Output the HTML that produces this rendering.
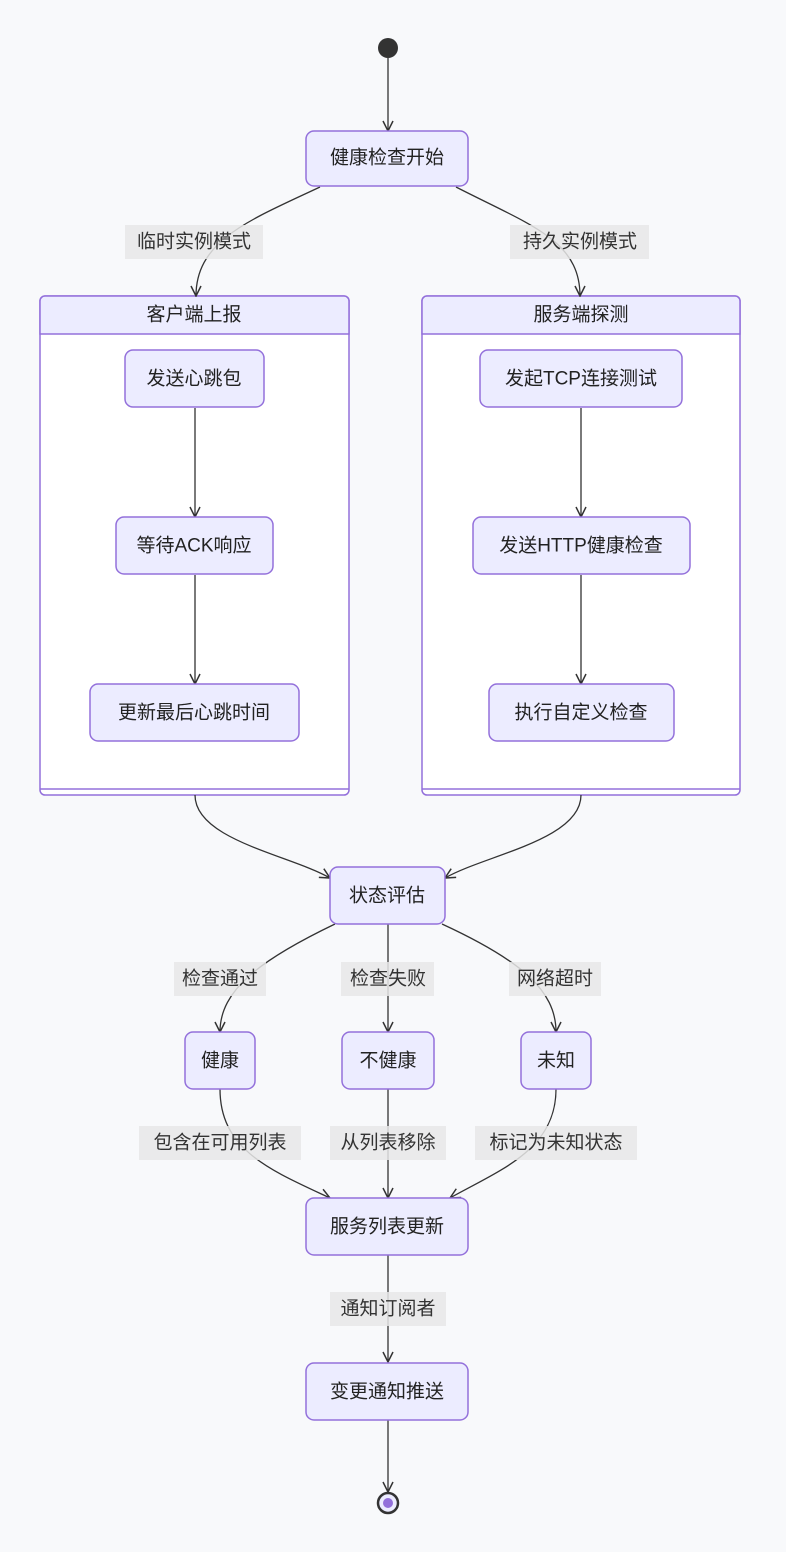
<!DOCTYPE html>
<html><head><meta charset="utf-8"><style>
html,body{margin:0;padding:0;background:#f8f9fb;}
svg{display:block;font-family:"Liberation Sans","Noto Sans CJK SC",sans-serif;}
.n{fill:#ECECFF;stroke:#9370DB;stroke-width:1.5;}
.e{fill:none;stroke:#333;stroke-width:1.3;}
.t{font-size:19px;fill:#222;text-anchor:middle;dominant-baseline:central;}
.lb{fill:#e8e8e8;opacity:0.85;}
.lt{font-size:19px;fill:#333;text-anchor:middle;dominant-baseline:central;}
</style></head><body>
<svg width="786" height="1552" viewBox="0 0 786 1552" xmlns="http://www.w3.org/2000/svg">
<defs>
<marker id="a" viewBox="0 0 12 12" refX="11" refY="6" markerWidth="12" markerHeight="12" markerUnits="userSpaceOnUse" orient="auto">
<path d="M1,1 L11,6 L1,11" fill="none" stroke="#333" stroke-width="1.5"/>
</marker>
</defs>
<rect width="786" height="1552" fill="#f8f9fb"/>
<!-- composites -->
<rect x="40" y="296" width="309" height="499" rx="5" fill="#fff" stroke="#9370DB" stroke-width="1.5"/>
<path d="M40,334 V301 a5,5 0 0 1 5,-5 H344 a5,5 0 0 1 5,5 V334 Z" fill="#ECECFF" stroke="#9370DB" stroke-width="1.5"/>
<line x1="40" y1="789" x2="349" y2="789" stroke="#9370DB" stroke-width="1.5"/>
<text class="t" x="194" y="315">客户端上报</text>
<rect x="422" y="296" width="318" height="499" rx="5" fill="#fff" stroke="#9370DB" stroke-width="1.5"/>
<path d="M422,334 V301 a5,5 0 0 1 5,-5 H735 a5,5 0 0 1 5,5 V334 Z" fill="#ECECFF" stroke="#9370DB" stroke-width="1.5"/>
<line x1="422" y1="789" x2="740" y2="789" stroke="#9370DB" stroke-width="1.5"/>
<text class="t" x="581" y="315">服务端探测</text>
<!-- edges -->
<path class="e" d="M388,58 V131" marker-end="url(#a)"/>
<path class="e" d="M320,187 C250,220 196,240 196,296" marker-end="url(#a)"/>
<path class="e" d="M456,187 C530,225 580,240 580,296" marker-end="url(#a)"/>
<path class="e" d="M195,408 V517" marker-end="url(#a)"/>
<path class="e" d="M195,575 V684" marker-end="url(#a)"/>
<path class="e" d="M581,408 V517" marker-end="url(#a)"/>
<path class="e" d="M581,575 V684" marker-end="url(#a)"/>
<path class="e" d="M195,795 C195,840 290,855 330,878" marker-end="url(#a)"/>
<path class="e" d="M581,795 C581,840 485,855 445,878" marker-end="url(#a)"/>
<path class="e" d="M335,924 C260,960 220,990 220,1032" marker-end="url(#a)"/>
<path class="e" d="M388,924 V1032" marker-end="url(#a)"/>
<path class="e" d="M442,924 C520,960 556,990 556,1032" marker-end="url(#a)"/>
<path class="e" d="M220,1089 C220,1150 270,1170 330,1198" marker-end="url(#a)"/>
<path class="e" d="M388,1089 V1198" marker-end="url(#a)"/>
<path class="e" d="M556,1089 C556,1150 500,1170 450,1198" marker-end="url(#a)"/>
<path class="e" d="M388,1255 V1362" marker-end="url(#a)"/>
<path class="e" d="M388,1420 V1492" marker-end="url(#a)"/>
<!-- start/end -->
<circle cx="388" cy="48" r="10" fill="#333"/>
<circle cx="388" cy="1503" r="10" fill="#ECECFF" stroke="#333" stroke-width="2.5"/>
<circle cx="388" cy="1503" r="5" fill="#9370DB"/>
<!-- nodes -->
<rect class="n" x="306" y="131" width="162" height="55" rx="8"/><text class="t" x="387" y="158">健康检查开始</text>
<rect class="n" x="125" y="350" width="139" height="57" rx="8"/><text class="t" x="194" y="379">发送心跳包</text>
<rect class="n" x="116" y="517" width="157" height="57" rx="8"/><text class="t" x="194" y="546">等待ACK响应</text>
<rect class="n" x="90" y="684" width="209" height="57" rx="8"/><text class="t" x="194" y="713">更新最后心跳时间</text>
<rect class="n" x="480" y="350" width="202" height="57" rx="8"/><text class="t" x="581" y="379">发起TCP连接测试</text>
<rect class="n" x="473" y="517" width="217" height="57" rx="8"/><text class="t" x="581" y="546">发送HTTP健康检查</text>
<rect class="n" x="489" y="684" width="185" height="57" rx="8"/><text class="t" x="581" y="713">执行自定义检查</text>
<rect class="n" x="330" y="867" width="115" height="57" rx="8"/><text class="t" x="387" y="896">状态评估</text>
<rect class="n" x="185" y="1032" width="70" height="57" rx="8"/><text class="t" x="220" y="1061">健康</text>
<rect class="n" x="342" y="1032" width="92" height="57" rx="8"/><text class="t" x="388" y="1061">不健康</text>
<rect class="n" x="521" y="1032" width="70" height="57" rx="8"/><text class="t" x="556" y="1061">未知</text>
<rect class="n" x="306" y="1198" width="162" height="57" rx="8"/><text class="t" x="387" y="1227">服务列表更新</text>
<rect class="n" x="306" y="1363" width="162" height="57" rx="8"/><text class="t" x="387" y="1392">变更通知推送</text>
<!-- labels -->
<rect class="lb" x="125" y="225" width="138" height="34"/><text class="lt" x="194" y="242">临时实例模式</text>
<rect class="lb" x="510" y="225" width="139" height="34"/><text class="lt" x="580" y="242">持久实例模式</text>
<rect class="lb" x="174" y="962" width="92" height="34"/><text class="lt" x="220" y="979">检查通过</text>
<rect class="lb" x="341" y="962" width="93" height="34"/><text class="lt" x="388" y="979">检查失败</text>
<rect class="lb" x="509" y="962" width="92" height="34"/><text class="lt" x="555" y="979">网络超时</text>
<rect class="lb" x="139" y="1126" width="162" height="34"/><text class="lt" x="220" y="1143">包含在可用列表</text>
<rect class="lb" x="330" y="1126" width="116" height="34"/><text class="lt" x="388" y="1143">从列表移除</text>
<rect class="lb" x="475" y="1126" width="162" height="34"/><text class="lt" x="556" y="1143">标记为未知状态</text>
<rect class="lb" x="330" y="1292" width="116" height="34"/><text class="lt" x="388" y="1309">通知订阅者</text>
</svg>
</body></html>
